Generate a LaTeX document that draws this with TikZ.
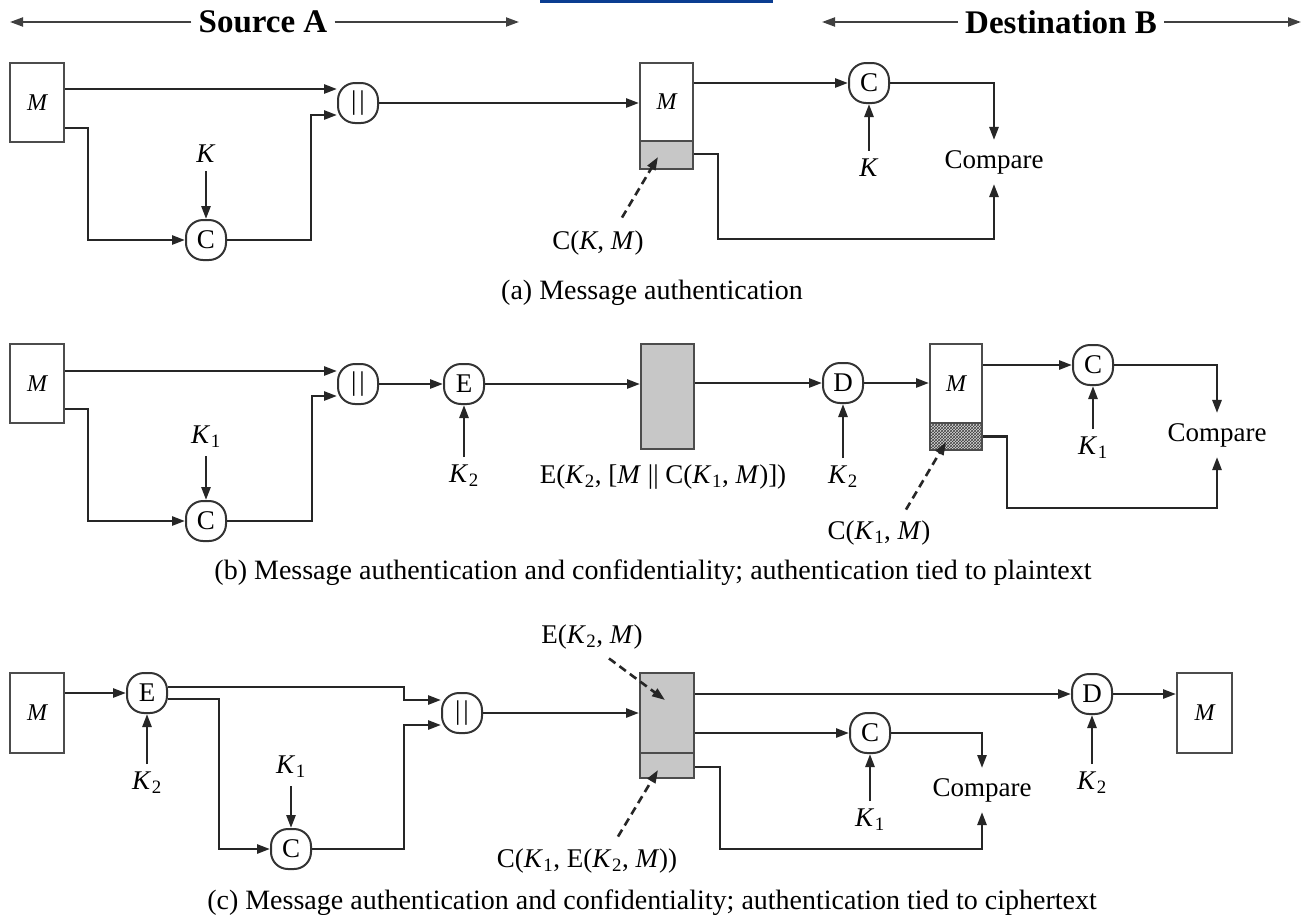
\documentclass[tikz,border=0pt]{standalone}
\usepackage{fontspec}
\setmainfont{Liberation Serif}
\usetikzlibrary{arrows.meta,patterns}
\definecolor{linkblue}{HTML}{0B3D91}
\newcommand{\Kx}[1]{\textit{K}\kern0.5pt\textsubscript{#1}}
\newcommand{\cc}{|\kern3pt|}
\begin{document}
\begin{tikzpicture}[x=1pt,y=-1pt,
  wire/.style={line width=2.6pt, draw=black!85},
  arr/.style={wire, -{Triangle[length=13pt,width=9pt]}},
  harr/.style={line width=2pt, draw=black!75, -{Triangle[length=13pt,width=9pt]}},
  dasharr/.style={wire, dash pattern=on 8pt off 5pt, -{Triangle[length=13pt,width=9pt]}},
  box/.style={draw=black!70, line width=2pt, minimum width=54pt, inner sep=0pt, font=\fontsize{24}{26}\selectfont\itshape},
  opbox/.style={draw=black!80, line width=2pt, rounded corners=17pt, minimum size=40pt, inner sep=0pt, fill=white, font=\fontsize{27}{30}\selectfont},
  lbl/.style={inner sep=8pt, font=\fontsize{27}{30}\selectfont},
  tlbl/.style={inner sep=2pt, font=\fontsize{27}{30}\selectfont},
  capt/.style={inner sep=0pt, font=\fontsize{28}{32}\selectfont},
  hdr/.style={inner sep=7pt, font=\fontsize{33}{36}\selectfont\bfseries},
  cmpnode/.style={inner sep=10pt, font=\fontsize{27}{30}\selectfont},
]
\useasboundingbox (0,0) rectangle (1305,914);
\fill[white] (0,0) rectangle (1305,914);
\fill[linkblue] (540,0) rectangle (773,3);

% ---------- header ----------
\node[hdr] (srcA) at (263,22) {Source A};
\coordinate (srcAL) at (10,22);
\coordinate (srcAR) at (519,22);
\draw[harr] (srcA.west) -- (srcAL);
\draw[harr] (srcA.east) -- (srcAR);
\node[hdr] (dstB) at (1061,22) {Destination B};
\coordinate (dstBL) at (822,22);
\coordinate (dstBR) at (1301,22);
\draw[harr] (dstB.west) -- (dstBL);
\draw[harr] (dstB.east) -- (dstBR);

% ---------- panel (a) ----------
\node[box, minimum height=79pt] (Ma) at (37,102.5) {M};
\node[opbox] (Pa) at (358,103) {\cc};
\node[opbox] (Ca) at (206,240) {C};
\node[lbl] (Ka) at (206,154) {\textit{K}};
\node[box, minimum width=53pt, minimum height=78pt] (RMa) at (666.5,102) {M};
\node[box, minimum width=53pt, minimum height=28pt, fill=black!22] (RCa) at (666.5,155) {};
\node[opbox] (CRa) at (869,83) {C};
\node[lbl] (KRa) at (869,168) {\textit{K}};
\node[cmpnode] (CMa) at (994,162) {Compare};
\node[tlbl] (LCa) at (598,243) {C(\textit{K}, \textit{M})};
\node[capt] (CAPa) at (652,293) {(a) Message authentication};
\coordinate (tipa) at (658,157);

\draw[arr] ([yshift=13.5pt]Ma.east) -- ([yshift=14pt]Pa.west);
\draw[arr] ([yshift=-25.5pt]Ma.east) -| (88,240) -- (Ca.west);
\draw[arr] (Ka) -- (Ca);
\draw[arr] (Ca.east) -| (311,115) -- ([yshift=-12pt]Pa.west);
\draw[arr] (Pa.east) -- (Pa.east -| RMa.west);
\draw[arr] (RMa.east |- CRa) -- (CRa.west);
\draw[arr] (CRa.east) -| (CMa.north);
\draw[arr] (KRa) -- (CRa);
\draw[arr] ([yshift=1pt]RCa.east) -| (718,239) -| (CMa.south);
\draw[dasharr] ([xshift=24pt,yshift=11pt]LCa.north) -- (tipa);

% ---------- panel (b) ----------
\node[box, minimum height=79pt] (Mb) at (37,383.5) {M};
\node[opbox] (Pb) at (358,384) {\cc};
\node[opbox] (Cb) at (206,521) {C};
\node[lbl] (K1b) at (206,437) {\Kx{1}};
\node[opbox] (Eb) at (464,384) {E};
\node[lbl] (K2b) at (464,476) {\Kx{2}};
\node[box, minimum width=53pt, minimum height=105pt, fill=black!22] (Gb) at (667.5,396.5) {};
\node[tlbl] (LEb) at (663,477) {E(\Kx{2}, [\textit{M} || C(\Kx{1}, \textit{M})])};
\node[opbox] (Db) at (843,383) {D};
\node[lbl] (K2d) at (843,477) {\Kx{2}};
\fill[black!15] (930,423) rectangle (982,450);
\fill[pattern=crosshatch, pattern color=black!75] (930,423) rectangle (982,450);
\node[box, minimum width=52pt, minimum height=79pt] (RMb) at (956,383.5) {M};
\node[box, minimum width=52pt, minimum height=27pt] (RCb) at (956,436.5) {};
\node[opbox] (CRb) at (1093,365) {C};
\node[lbl] (K1r) at (1093,448) {\Kx{1}};
\node[cmpnode] (CMb) at (1217,435) {Compare};
\node[tlbl] (LCb) at (879,533) {C(\Kx{1}, \textit{M})};
\node[capt] (CAPb) at (653,573) {(b) Message authentication and confidentiality; authentication tied to plaintext};
\coordinate (tipb) at (946,442);

\draw[arr] ([yshift=12.5pt]Mb.east) -- ([yshift=13pt]Pb.west);
\draw[arr] ([yshift=-25.5pt]Mb.east) -| (88,521) -- (Cb.west);
\draw[arr] (K1b) -- (Cb);
\draw[arr] (Cb.east) -| (312,396) -- ([yshift=-12pt]Pb.west);
\draw[arr] (Pb) -- (Eb);
\draw[arr] (K2b) -- (Eb);
\draw[arr] (Eb.east) -- (Eb.east -| Gb.west);
\draw[arr] (Gb.east |- Db) -- (Db.west);
\draw[arr] (K2d) -- (Db);
\draw[arr] (Db.east) -- (Db.east -| RMb.west);
\draw[arr] (RMb.east |- CRb) -- (CRb.west);
\draw[arr] (CRb.east) -| (CMb.north);
\draw[arr] (K1r) -- (CRb);
\draw[arr] (RCb.east) -| (1007,508) -| (CMb.south);
\draw[dasharr] ([xshift=27pt,yshift=9pt]LCb.north) -- (tipb);

% ---------- panel (c) ----------
\node[box, minimum height=80pt] (Mc) at (37,713) {M};
\node[opbox] (Ec) at (147,693) {E};
\node[lbl] (K2c) at (147,783) {\Kx{2}};
\node[opbox] (Cc) at (291,849) {C};
\node[lbl] (K1c) at (291,767) {\Kx{1}};
\node[opbox] (Pc) at (462,713) {\cc};
\node[box, minimum width=54pt, minimum height=80pt, fill=black!22] (GEc) at (667,713) {};
\node[box, minimum width=54pt, minimum height=25pt, fill=black!22] (GCc) at (667,765.5) {};
\node[opbox] (Dc) at (1092,694) {D};
\node[box, minimum width=55pt, minimum height=80pt] (Mrc) at (1204.5,713) {M};
\node[lbl] (K2r) at (1092,783) {\Kx{2}};
\node[opbox] (CRc) at (870,733) {C};
\node[lbl] (K1rc) at (870,820) {\Kx{1}};
\node[cmpnode] (CMc) at (982,790) {Compare};
\node[tlbl] (LEc) at (592,637) {E(\Kx{2}, \textit{M})};
\node[tlbl] (LCc) at (587,861) {C(\Kx{1}, E(\Kx{2}, \textit{M}))};
\node[capt] (CAPc) at (652,903) {(c) Message authentication and confidentiality; authentication tied to ciphertext};
\coordinate (tipc1) at (665,700);
\coordinate (tipc2) at (658,770);

\draw[arr] (Mc.east |- Ec) -- (Ec.west);
\draw[arr] ([yshift=6pt]Ec.east) -| (404,700) -- ([yshift=13pt]Pc.west);
\draw[arr] ([yshift=-6pt]Ec.east) -| (219,849) -- (Cc.west);
\draw[arr] (K2c) -- (Ec);
\draw[arr] (K1c) -- (Cc);
\draw[arr] (Cc.east) -| (404,725) -- ([yshift=-12pt]Pc.west);
\draw[arr] (Pc.east) -- (Pc.east -| GEc.west);
\draw[arr] (GEc.east |- Dc) -- (Dc.west);
\draw[arr] (Dc.east) -- (Dc.east -| Mrc.west);
\draw[arr] (K2r) -- (Dc);
\draw[arr] (GEc.east |- CRc) -- (CRc.west);
\draw[arr] (CRc.east) -| (CMc.north);
\draw[arr] (K1rc) -- (CRc);
\draw[arr] ([yshift=-1.5pt]GCc.east) -| (720,849) -| (CMc.south);
\draw[dasharr] ([xshift=17pt,yshift=-7pt]LEc.south) -- (tipc1);
\draw[dasharr] ([xshift=31pt,yshift=10pt]LCc.north) -- (tipc2);
\end{tikzpicture}
\end{document}
